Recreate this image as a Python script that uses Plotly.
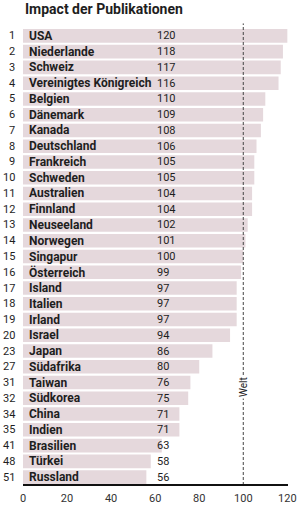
import plotly.graph_objects as go

title = "Impact der Publikationen"
ranks = [1, 2, 3, 4, 5, 6, 7, 8, 9, 10, 11, 12, 13, 14, 15, 16, 17, 18, 19, 20, 23, 27, 31, 32, 34, 35, 41, 48, 51]
countries = ["USA", "Niederlande", "Schweiz", "Vereinigtes Königreich", "Belgien", "Dänemark", "Kanada",
             "Deutschland", "Frankreich", "Schweden", "Australien", "Finnland", "Neuseeland", "Norwegen",
             "Singapur", "Österreich", "Island", "Italien", "Irland", "Israel", "Japan", "Südafrika",
             "Taiwan", "Südkorea", "China", "Indien", "Brasilien", "Türkei", "Russland"]
values = [120, 118, 117, 116, 110, 109, 108, 106, 105, 105, 104, 104, 102, 101, 100, 99, 97, 97, 97, 94,
          86, 80, 76, 75, 71, 71, 63, 58, 56]
tick_vals = [0, 20, 40, 60, 80, 100, 120]
world_value = 100
world_label = "Welt"
value_label_x = 60

FONT = "Roboto, sans-serif"
TXT = "#1e1e1e"

fig = go.Figure()
fig.add_trace(go.Bar(
    x=values, y=list(range(len(values))), orientation="h",
    marker=dict(color="#e5d8dc", line=dict(width=0)),
    hoverinfo="skip", showlegend=False,
))

annotations = []
for i, (r, c, v) in enumerate(zip(ranks, countries, values)):
    annotations.append(dict(x=0, y=i, xref="paper", yref="y", text=str(r), showarrow=False,
                            xanchor="right", xshift=-6, font=dict(family=FONT, size=11, color=TXT)))
    annotations.append(dict(x=0, y=i, xref="x", yref="y", text="<b>%s</b>" % c, showarrow=False,
                            xanchor="left", xshift=4, font=dict(family=FONT, size=12, color=TXT)))
    annotations.append(dict(x=value_label_x, y=i, xref="x", yref="y", text=str(v), showarrow=False,
                            xanchor="left", xshift=0, font=dict(family=FONT, size=11, color=TXT)))

annotations.append(dict(x=world_value, y=0.215, xref="x", yref="paper", text=world_label, textangle=-90,
                        xanchor="center", yanchor="middle",
                        showarrow=False, bgcolor="white", font=dict(family=FONT, size=10, color=TXT)))
annotations.append(dict(x=0, y=1, xref="paper", yref="paper", text="<b>%s</b>" % title, showarrow=False,
                        xanchor="left", yanchor="bottom", yshift=9, font=dict(family=FONT, size=14, color=TXT)))

fig.add_shape(type="line", x0=world_value, x1=world_value, xref="x", y0=0, y1=1.01, yref="paper",
              line=dict(color="#444", width=1, dash="3px,2px"), layer="above")

fig.update_layout(
    template="none",
    width=300, height=507,
    margin=dict(l=23, r=12, t=28, b=22),
    paper_bgcolor="white", plot_bgcolor="white",
    bargap=0.14,
    annotations=annotations,
    xaxis=dict(range=[0, 120.3], tickvals=tick_vals, showgrid=False, zeroline=False, automargin=False,
               showline=False, ticks="", ticklen=0, ticklabelstandoff=5,
               tickfont=dict(family=FONT, size=11, color="#333")),
    yaxis=dict(range=[len(values) - 0.5, -0.5], showticklabels=False, showgrid=False, automargin=False,
               zeroline=False, showline=False, fixedrange=True),
    font=dict(family=FONT),
)
fig.add_shape(type="line", x0=0, x1=1, xref="paper", y0=0, y1=0, yref="paper",
              line=dict(color="#111", width=2))

fig.write_html("out.html")
